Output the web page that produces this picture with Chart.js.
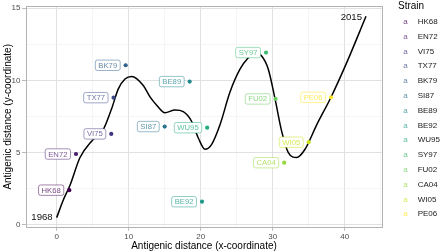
<!DOCTYPE html>
<html>
<head>
<meta charset="utf-8">
<script src="https://cdn.jsdelivr.net/npm/chart.js@4.4.0/dist/chart.umd.min.js"></script>
<style>
  html, body { margin: 0; padding: 0; background: #fff; }
  canvas { display: block; }
</style>
</head>
<body>
<canvas id="mapChart" width="440" height="252"></canvas>
<script>
// Antigenic map - strains plus the smoothed path through time

const strains = ['HK68', 'EN72', 'VI75', 'TX77', 'BK79', 'SI87', 'BE89', 'BE92', 'WU95', 'SY97', 'FU02', 'CA04', 'WI05', 'PE06'];
const strainX = [1.75, 2.68, 7.58, 7.9, 9.58, 15.0, 18.47, 20.18, 20.9, 29.07, 30.4, 31.6, 35.0, 38.1];
const strainY = [2.4, 4.9, 6.29, 8.8, 11.04, 6.8, 9.91, 1.6, 6.72, 11.92, 8.71, 4.3, 5.72, 8.82];
const strainColors = ['#440154', '#481C6E', '#453581', '#3D4D8A', '#34618D', '#2B748E', '#24878E',
                      '#1F998A', '#25AC82', '#40BC72', '#67CC5C', '#97D83F', '#CBE11E', '#FDE725'];

// path points
const pathX = [0, 0.92, 1.85, 3.24, 4.86, 6.47, 7.64, 8.56, 9.49, 10.42, 12.03, 12.96, 13.89, 15.04, 16.43,
               17.58, 18.75, 19.67, 20.6, 21.53, 22.68, 24.07, 25.46, 26.61, 27.54, 28.47, 29.39, 30.32,
               31.25, 32.17, 33.33, 34.49, 36.11, 38.1, 40.28, 42.96];
const pathY = [0.5, 1.72, 2.74, 4.66, 5.79, 6.59, 8.05, 9.41, 10.09, 10.27, 9.64, 8.85, 8.28, 7.76, 7.94,
               7.83, 7.15, 6.01, 5.23, 5.57, 6.92, 9.19, 10.77, 11.56, 11.9, 11.68, 10.77, 8.73,
               6.47, 5.0, 4.66, 5.23, 6.92, 8.83, 11.22, 14.43];
const pathYears = ['1968', '2015'];

const xTicks = [0, 10, 20, 30, 40];
const xMinor = [5, 15, 25, 35, 45];
const yTicks = [0, 5, 10, 15];
const yMinor = [2.5, 7.5, 12.5];

const FONT = "'Liberation Sans', Arial, sans-serif";

function withAlpha(hex, a) {
    const n = parseInt(hex.slice(1), 16);
    return 'rgba(' + (n >> 16) + ',' + ((n >> 8) & 255) + ',' + (n & 255) + ',' + a + ')';
}

function roundBox(ctx, x, y, w, h, r) {
    ctx.beginPath();
    ctx.moveTo(x + r, y);
    ctx.lineTo(x + w - r, y);
    ctx.quadraticCurveTo(x + w, y, x + w, y + r);
    ctx.lineTo(x + w, y + h - r);
    ctx.quadraticCurveTo(x + w, y + h, x + w - r, y + h);
    ctx.lineTo(x + r, y + h);
    ctx.quadraticCurveTo(x, y + h, x, y + h - r);
    ctx.lineTo(x, y + r);
    ctx.quadraticCurveTo(x, y, x + r, y);
    ctx.closePath();
}

// panel border, strain labels, year labels and the legend
const decorPlugin = {
    id: 'decor',
    afterDraw(chart) {
        const ctx = chart.ctx;
        const area = chart.chartArea;
        const xs = chart.scales.x;
        const ys = chart.scales.y;
        ctx.save();

        // labels, nudged to the left of each point
        ctx.font = '7.7px ' + FONT;
        ctx.textBaseline = 'middle';
        ctx.textAlign = 'center';
        strains.forEach((name, i) => {
            const px = xs.getPixelForValue(strainX[i]);
            const py = ys.getPixelForValue(strainY[i]);
            const w = ctx.measureText(name).width + 6;
            const h = 10.4;
            const left = px - 5.5 - w;
            roundBox(ctx, left, py - h / 2, w, h, 2);
            ctx.fillStyle = '#fff';
            ctx.fill();
            ctx.lineWidth = 0.9;
            ctx.strokeStyle = withAlpha(strainColors[i], 0.55);
            ctx.stroke();
            ctx.fillStyle = withAlpha(strainColors[i], 0.75);
            ctx.fillText(name, left + w / 2, py + 0.4);
        });

        // first and last year of the path
        ctx.font = '9.6px ' + FONT;
        ctx.fillStyle = '#111';
        ctx.textAlign = 'right';
        const last = pathX.length - 1;
        ctx.fillText(pathYears[0], xs.getPixelForValue(pathX[0]) - 4, ys.getPixelForValue(pathY[0]));
        ctx.fillText(pathYears[1], xs.getPixelForValue(pathX[last]) - 4, ys.getPixelForValue(pathY[last]) + 0.6);

        // panel border
        ctx.strokeStyle = '#B3B3B3';
        ctx.lineWidth = 1;
        ctx.strokeRect(Math.round(area.left) + 0.5, Math.round(area.top) + 0.5,
                       Math.round(area.right - area.left) - 1, Math.round(area.bottom - area.top));

        // legend
        ctx.textAlign = 'left';
        ctx.font = '10px ' + FONT;
        ctx.fillStyle = '#000';
        ctx.fillText('Strain', 398, 6.5);
        strains.forEach((name, i) => {
            const ry = 21.7 + i * 14.8;
            ctx.font = '8px ' + FONT;
            ctx.textAlign = 'center';
            ctx.fillStyle = withAlpha(strainColors[i], 0.75);
            ctx.fillText('a', 405.5, ry);
            ctx.textAlign = 'left';
            ctx.fillStyle = '#1a1a1a';
            ctx.fillText(name, 417.7, ry);
        });
        ctx.restore();
    }
};

function axisTicks(major, minor) {
    return function(scale) {
        scale.ticks = major.concat(minor).sort((a, b) => a - b).map(v => ({ value: v }));
    };
}

new Chart(document.getElementById('mapChart'), {
    type: 'scatter',
    data: {
        datasets: [{
            label: 'Strains',
            data: strainX.map((v, i) => ({ x: v, y: strainY[i] })),
            backgroundColor: strainColors,
            borderWidth: 0,
            pointRadius: 2.1
        }, {
            label: 'Path',
            data: pathX.map((v, i) => ({ x: v, y: pathY[i] })),
            showLine: true,
            borderColor: '#000',
            borderWidth: 1.5,
            pointRadius: 0,
            cubicInterpolationMode: 'monotone',
            fill: false
        }]
    },
    options: {
        responsive: false,
        animation: false,
        events: [],
        layout: { padding: { left: 0, top: 3, right: 57.5, bottom: 0 } },
        plugins: {
            legend: { display: false },
            tooltip: { enabled: false }
        },
        scales: {
            x: {
                type: 'linear',
                min: -4.33,
                max: 45.25,
                afterBuildTicks: axisTicks(xTicks, xMinor),
                afterFit: s => { s.height = 24.7; },
                border: { display: false },
                grid: {
                    color: c => xTicks.includes(c.tick.value) ? '#DEDEDE' : '#EEEEEE',
                    lineWidth: c => xTicks.includes(c.tick.value) ? 0.9 : 0.6,
                    tickColor: c => xTicks.includes(c.tick.value) ? '#B3B3B3' : 'rgba(0,0,0,0)',
                    tickLength: 3.5
                },
                ticks: {
                    autoSkip: false,
                    maxRotation: 0,
                    padding: 1.5,
                    color: '#4D4D4D',
                    font: { family: FONT, size: 8 },
                    callback: v => xTicks.includes(v) ? String(v) : ''
                },
                title: {
                    display: true,
                    text: 'Antigenic distance (x-coordinate)',
                    color: '#000',
                    font: { family: FONT, size: 10 },
                    padding: { top: 0, bottom: 0 }
                }
            },
            y: {
                type: 'linear',
                min: -0.17,
                max: 15.12,
                afterBuildTicks: axisTicks(yTicks, yMinor),
                afterFit: s => { s.width = 25.5; },
                border: { display: false },
                grid: {
                    color: c => yTicks.includes(c.tick.value) ? '#DEDEDE' : '#EEEEEE',
                    lineWidth: c => yTicks.includes(c.tick.value) ? 0.9 : 0.6,
                    tickColor: c => yTicks.includes(c.tick.value) ? '#B3B3B3' : 'rgba(0,0,0,0)',
                    tickLength: 3.5
                },
                ticks: {
                    autoSkip: false,
                    padding: 1.5,
                    color: '#4D4D4D',
                    font: { family: FONT, size: 8 },
                    callback: v => yTicks.includes(v) ? String(v) : ''
                },
                title: {
                    display: true,
                    text: 'Antigenic distance (y-coordinate)',
                    color: '#000',
                    font: { family: FONT, size: 10 },
                    padding: { top: 2, bottom: 0 }
                }
            }
        }
    },
    plugins: [decorPlugin]
});
</script>
</body>
</html>
